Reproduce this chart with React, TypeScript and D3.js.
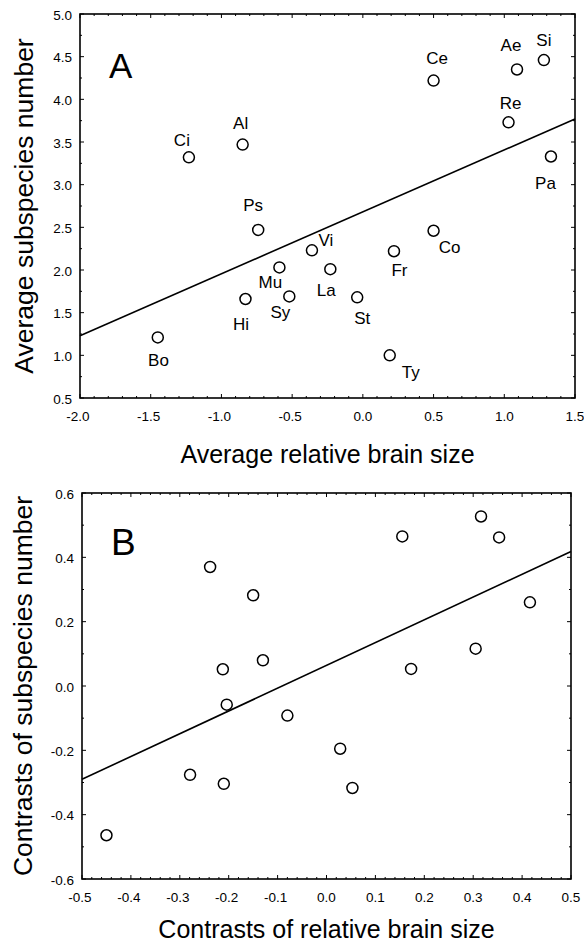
import React from "react";
import * as d3 from "d3";

// ---------- Data ----------
const speciesLabels = ["Ci", "Al", "Ce", "Ae", "Si", "Re", "Pa", "Ps", "Mu", "Hi", "Sy", "Bo", "Vi", "La", "St", "Fr", "Co", "Ty"];
const avgBrainSize = [-1.23, -0.85, 0.5, 1.09, 1.28, 1.03, 1.33, -0.74, -0.59, -0.83, -0.52, -1.45, -0.36, -0.23, -0.04, 0.22, 0.5, 0.19];
const avgSubspecies = [3.32, 3.47, 4.22, 4.35, 4.46, 3.73, 3.33, 2.47, 2.03, 1.66, 1.69, 1.21, 2.23, 2.01, 1.68, 2.22, 2.46, 1.0];
const regressionAX = [-2.0, 1.5];
const regressionAY = [1.23, 3.77];
const ticksAX = [-2.0, -1.5, -1.0, -0.5, 0.0, 0.5, 1.0, 1.5];
const ticksAY = [0.5, 1.0, 1.5, 2.0, 2.5, 3.0, 3.5, 4.0, 4.5, 5.0];

const contrastBrain = [-0.238, -0.15, -0.212, -0.13, -0.204, -0.08, -0.279, -0.21, -0.45, 0.028, 0.053, 0.155, 0.316, 0.353, 0.416, 0.305, 0.173];
const contrastSubspecies = [0.37, 0.282, 0.052, 0.08, -0.058, -0.092, -0.276, -0.304, -0.464, -0.195, -0.317, 0.465, 0.527, 0.462, 0.26, 0.116, 0.053];
const regressionBX = [-0.5, 0.5];
const regressionBY = [-0.29, 0.418];
const ticksBX = [-0.5, -0.4, -0.3, -0.2, -0.1, 0.0, 0.1, 0.2, 0.3, 0.4, 0.5];
const ticksBY = [-0.6, -0.4, -0.2, 0.0, 0.2, 0.4, 0.6];

// label placement (pixels, styling only)
const labelDx = [-7, -2, 3.5, -6, 0, 2, -5.5, -5, -9, -4.5, -9, 0.7, 14, -4, 5, 5.5, 16, 21];
const labelDy = [-11, -16, -17, -18, -14, -13, 32, -19, 21, 31, 22, 29, -4, 27, 27, 25, 22, 23];

const FONT = "'Liberation Sans', Arial, Helvetica, sans-serif";

type PanelProps = {
  left: number; right: number; top: number; bottom: number;
  xDomain: [number, number]; yDomain: [number, number];
  xTicks: number[]; yTicks: number[]; xMinorDiv: number; yMinorDiv: number;
  xs: number[]; ys: number[]; labels?: string[];
  lineX: number[]; lineY: number[];
  letter: string; letterX: number; letterY: number; letterSize: number;
  xTitle: string; yTitle: string; xTitleY: number; yTitleX: number;
};

function Panel(p: PanelProps) {
  const x = d3.scaleLinear().domain(p.xDomain).range([p.left, p.right]);
  const y = d3.scaleLinear().domain(p.yDomain).range([p.bottom, p.top]);
  const major = 4, minor = 2;
  const minorX: number[] = [];
  for (let i = 0; i < p.xTicks.length - 1; i++) {
    const a = p.xTicks[i], b = p.xTicks[i + 1];
    for (let k = 1; k < p.xMinorDiv; k++) minorX.push(a + ((b - a) * k) / p.xMinorDiv);
  }
  const minorY: number[] = [];
  for (let i = 0; i < p.yTicks.length - 1; i++) {
    const a = p.yTicks[i], b = p.yTicks[i + 1];
    for (let k = 1; k < p.yMinorDiv; k++) minorY.push(a + ((b - a) * k) / p.yMinorDiv);
  }
  const line = d3.line<number>().x((d) => x(p.lineX[d])).y((d) => y(p.lineY[d]));
  const cx = (p.left + p.right) / 2;
  const cy = (p.top + p.bottom) / 2;
  return (
    <g>
      <rect x={p.left} y={p.top} width={p.right - p.left} height={p.bottom - p.top} fill="none" stroke="#000" strokeWidth={1.6} />
      {p.xTicks.map((t, i) => (
        <g key={"xt" + i}>
          <line x1={x(t)} x2={x(t)} y1={p.bottom} y2={p.bottom - major} stroke="#000" strokeWidth={1} />
          <line x1={x(t)} x2={x(t)} y1={p.top} y2={p.top + major} stroke="#000" strokeWidth={1} />
          <text x={x(t) - (t < 0 ? 2 : 0)} y={p.bottom + 23} textAnchor="middle" fontSize={13.5} fontFamily={FONT}>{t.toFixed(1)}</text>
        </g>
      ))}
      {minorX.map((t, i) => (
        <g key={"xm" + i}>
          <line x1={x(t)} x2={x(t)} y1={p.bottom} y2={p.bottom - minor} stroke="#000" strokeWidth={1} />
          <line x1={x(t)} x2={x(t)} y1={p.top} y2={p.top + minor} stroke="#000" strokeWidth={1} />
        </g>
      ))}
      {p.yTicks.map((t, i) => (
        <g key={"yt" + i}>
          <line x1={p.left} x2={p.left + major} y1={y(t)} y2={y(t)} stroke="#000" strokeWidth={1} />
          <line x1={p.right} x2={p.right - major} y1={y(t)} y2={y(t)} stroke="#000" strokeWidth={1} />
          <text x={p.left - 8} y={y(t) + 5.5} textAnchor="end" fontSize={13.5} fontFamily={FONT}>{t.toFixed(1)}</text>
        </g>
      ))}
      {minorY.map((t, i) => (
        <g key={"ym" + i}>
          <line x1={p.left} x2={p.left + minor} y1={y(t)} y2={y(t)} stroke="#000" strokeWidth={1} />
          <line x1={p.right} x2={p.right - minor} y1={y(t)} y2={y(t)} stroke="#000" strokeWidth={1} />
        </g>
      ))}
      <path d={line([0, 1]) || ""} fill="none" stroke="#000" strokeWidth={1.6} />
      {p.xs.map((v, i) => (
        <circle key={"c" + i} cx={x(v)} cy={y(p.ys[i])} r={5.5} fill="#fff" stroke="#000" strokeWidth={1.5} />
      ))}
      {p.labels && p.labels.map((l, i) => (
        <text key={"l" + i} x={x(p.xs[i]) + labelDx[i]} y={y(p.ys[i]) + labelDy[i]} textAnchor="middle" fontSize={17} fontFamily={FONT}>{l}</text>
      ))}
      <text x={p.letterX} y={p.letterY} fontSize={p.letterSize} fontFamily={FONT}>{p.letter}</text>
      <text x={cx} y={p.xTitleY} textAnchor="middle" fontSize={25} fontFamily={FONT}>{p.xTitle}</text>
      <text transform={`translate(${p.yTitleX},${cy}) rotate(-90)`} textAnchor="middle" fontSize={26.5} fontFamily={FONT}>{p.yTitle}</text>
    </g>
  );
}

export default function App() {
  return (
    <svg width={584} height={945} style={{ position: "absolute", left: 0, top: 0, background: "#fff" }}>
      <rect width={584} height={945} fill="#fff" />
      <Panel left={80} right={575} top={14} bottom={398}
        xDomain={[-2, 1.5]} yDomain={[0.5, 5]} xTicks={ticksAX} yTicks={ticksAY} xMinorDiv={5} yMinorDiv={2}
        xs={avgBrainSize} ys={avgSubspecies} labels={speciesLabels}
        lineX={regressionAX} lineY={regressionAY}
        letter="A" letterX={109} letterY={78} letterSize={35}
        xTitle="Average relative brain size" yTitle="Average subspecies number" xTitleY={463} yTitleX={33} />
      <Panel left={82} right={571} top={493} bottom={879}
        xDomain={[-0.5, 0.5]} yDomain={[-0.6, 0.6]} xTicks={ticksBX} yTicks={ticksBY} xMinorDiv={5} yMinorDiv={2}
        xs={contrastBrain} ys={contrastSubspecies}
        lineX={regressionBX} lineY={regressionBY}
        letter="B" letterX={111} letterY={555} letterSize={37}
        xTitle="Contrasts of relative brain size" yTitle="Contrasts of subspecies number" xTitleY={938} yTitleX={32} />
    </svg>
  );
}
